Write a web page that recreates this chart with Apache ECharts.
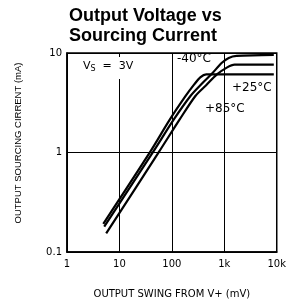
<!DOCTYPE html>
<html>
<head>
<meta charset="utf-8">
<script src="https://cdn.jsdelivr.net/npm/echarts@6/dist/echarts.min.js"></script>
<style>html,body{margin:0;padding:0;background:#fff}#c{width:289px;height:304px}</style>
</head>
<body>
<div id="c"></div>
<script>
// Output swing from V+ (mV) vs output sourcing current (mA)
var xTickValues = [1, 10, 100, 1000, 10000];
var xTickLabels = ['1', '10', '100', '1k', '10k'];
var yTickValues = [0.1, 1, 10];
var yTickLabels = ['0.1', '1', '10'];

var swingA = [4.92, 38.8, 91.8, 183, 269, 348, 451, 8790];
var currentA = [0.192, 1.02, 2.15, 3.70, 4.86, 5.69, 6.09, 6.09];

var swingB = [5.13, 44.2, 109, 226, 380, 584, 898, 1214, 1713, 8790];
var currentB = [0.180, 1.02, 2.15, 3.70, 4.97, 6.22, 7.98, 8.93, 9.35, 9.56];

var swingC = [5.59, 57.1, 141, 281, 451, 724, 1114, 1571, 8790];
var currentC = [0.154, 1.02, 2.15, 3.70, 4.75, 6.09, 7.13, 7.63, 7.63];

function pairs(xs, ys) { return xs.map(function (x, i) { return [x, ys[i]]; }); }
function lookup(vals, labels) {
  return function (v) {
    for (var i = 0; i < vals.length; i++) {
      if (Math.abs(Math.log10(v) - Math.log10(vals[i])) < 1e-6) return labels[i];
    }
    return '';
  };
}

var chart = echarts.init(document.getElementById('c'));
var lineStyle = { color: '#000', width: 2.2 };
var font = 'Liberation Sans, Arial, sans-serif';
var dfont = 'DejaVu Sans, sans-serif';
chart.setOption({
  animation: false,
  backgroundColor: '#fff',
  title: {
    text: 'Output Voltage vs\nSourcing Current',
    left: 69, top: 6, padding: 0,
    textStyle: { fontFamily: font, fontSize: 18, fontWeight: 'bold', color: '#000', lineHeight: 20 }
  },
  grid: { left: 67, right: 8, top: 53, bottom: 47, show: true, borderColor: '#000', borderWidth: 1.5, backgroundColor: 'transparent' },
  xAxis: {
    type: 'log', logBase: 10, min: 1, max: 10000,
    name: 'OUTPUT SWING FROM V+ (mV)', nameLocation: 'middle', nameGap: 37,
    nameTextStyle: { fontFamily: dfont, fontSize: 10, color: '#000' },
    axisLine: { show: true, lineStyle: { color: '#000', width: 1.5 } },
    axisTick: { show: false },
    minorTick: { show: false },
    axisLabel: { margin: 7, fontFamily: dfont, fontSize: 10, color: '#000', formatter: lookup(xTickValues, xTickLabels) },
    splitLine: { show: true, lineStyle: { color: '#000', width: 1 } }
  },
  yAxis: {
    type: 'log', logBase: 10, min: 0.1, max: 10,
    axisLine: { show: true, lineStyle: { color: '#000', width: 1.5 } },
    axisTick: { show: false },
    axisLabel: { margin: 5, fontFamily: dfont, fontSize: 10, color: '#000', formatter: lookup(yTickValues, yTickLabels) },
    splitLine: { show: true, lineStyle: { color: '#000', width: 1 } }
  },
  series: [
    { name: '+85°C', type: 'line', data: pairs(swingA, currentA), showSymbol: false, smooth: 0.3, lineStyle: lineStyle, z: 5 },
    { name: '-40°C', type: 'line', data: pairs(swingB, currentB), showSymbol: false, smooth: 0.3, lineStyle: lineStyle, z: 5 },
    { name: '+25°C', type: 'line', data: pairs(swingC, currentC), showSymbol: false, smooth: 0.3, lineStyle: lineStyle, z: 5 }
  ],
  graphic: [
    { type: 'text', x: 18, y: 143, rotation: Math.PI / 2, z: 10, style: { text: 'OUTPUT SOURCING CIRRENT (mA)', fontFamily: font, fontSize: 9.5, fill: '#000', textAlign: 'center', textVerticalAlign: 'middle' } },
    { type: 'rect', left: 225, top: 84, z: 9, shape: { width: 6, height: 33 }, style: { fill: '#fff' } },
    { type: 'text', left: 80, top: 57, z: 10, style: { text: '{v|V}{s|S}{v|  =  3V}', rich: { v: { fontFamily: dfont, fontSize: 11, fill: '#000' }, s: { fontFamily: dfont, fontSize: 8, fill: '#000', padding: [5, 0, 0, 0] } }, backgroundColor: '#fff', padding: [3, 3, 6, 3] } },
    { type: 'text', left: 177, top: 53, z: 10, style: { text: '-40\u00B0C', fontFamily: dfont, fontSize: 12, fill: '#000' } },
    { type: 'text', left: 232, top: 82, z: 10, style: { text: '+25\u00B0C', fontFamily: dfont, fontSize: 12, fill: '#000' } },
    { type: 'text', left: 205, top: 103, z: 10, style: { text: '+85\u00B0C', fontFamily: dfont, fontSize: 12, fill: '#000' } }
  ]
});
</script>
</body>
</html>
